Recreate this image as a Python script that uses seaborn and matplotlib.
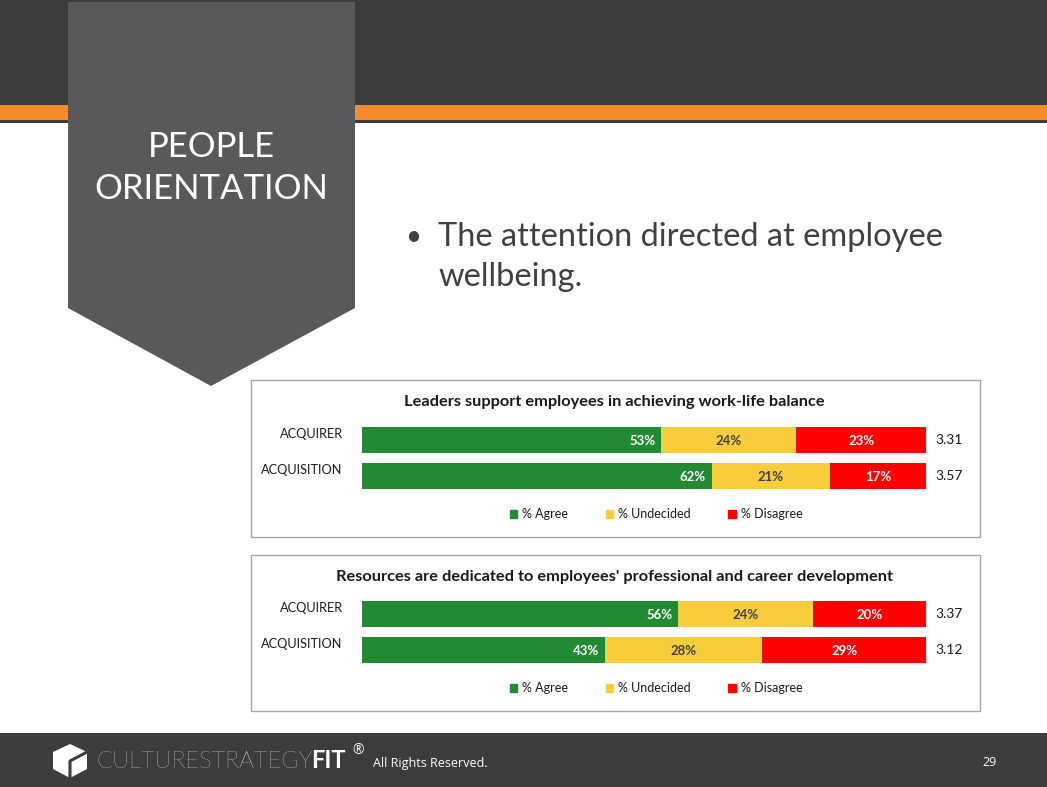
import matplotlib
matplotlib.use("Agg")
import matplotlib.pyplot as plt
import matplotlib.patches as mpatches
import matplotlib.transforms as mtransforms
from matplotlib.font_manager import fontManager
import seaborn as sns
import pandas as pd

# ---------------- data ----------------
categories = ["ACQUIRER", "ACQUISITION"]
series_names = ["% Agree", "% Undecided", "% Disagree"]
chart_titles = [
    "Leaders support employees in achieving work-life balance",
    "Resources are dedicated to employees' professional and career development",
]
agree_1 = [53, 62]
undecided_1 = [24, 21]
disagree_1 = [23, 17]
means_1 = [3.31, 3.57]
agree_2 = [56, 43]
undecided_2 = [24, 28]
disagree_2 = [20, 29]
means_2 = [3.37, 3.12]

slide_title = ["PEOPLE", "ORIENTATION"]
bullet_lines = ["The attention directed at employee", "wellbeing."]
footer_brand = "CULTURESTRATEGY"
footer_brand_bold = "FIT"
footer_note = "All Rights Reserved."
page_number = "29"

# ---------------- style ----------------
W, H = 1047, 787
GREEN, YELLOW, RED = "#228a32", "#f8cd3c", "#ff0000"
DARK = "#3c3b3d"
PENT = "#59595b"
ORANGE = "#f68b2c"
TXT = "#404040"

sns.set_theme(style="white")
avail = {f.name for f in fontManager.ttflist}
def pick(*names):
    for n in names:
        if n in avail:
            return n
    return "DejaVu Sans"
F_CHART = pick("Lato", "Carlito", "Open Sans", "DejaVu Sans")
F_SLIDE = pick("Lato", "Open Sans", "DejaVu Sans")
F_FOOT = pick("Open Sans", "Noto Sans", "DejaVu Sans")
plt.rcParams["font.family"] = [F_CHART, "DejaVu Sans"]

fig = plt.figure(figsize=(W / 100, H / 100), dpi=100)
fig.patch.set_facecolor("white")

bg = fig.add_axes([0, 0, 1, 1])
bg.set_xlim(0, W)
bg.set_ylim(H, 0)
bg.axis("off")

def rect(x0, y0, x1, y1, **kw):
    bg.add_patch(mpatches.Rectangle((x0, y0), x1 - x0, y1 - y0, **kw))

# header
rect(0, 0, W, 105, color=DARK, lw=0, zorder=1)
rect(0, 105, W, 120, color=ORANGE, lw=0, zorder=1)
rect(0, 120, W, 123, color=DARK, lw=0, zorder=1)
# pentagon banner
bg.add_patch(mpatches.Polygon([(68, 2), (355, 2), (355, 308), (211, 386), (68, 308)],
                              closed=True, color=PENT, lw=0, zorder=2))
bg.text(211, 147, slide_title[0], color="white", fontsize=25, ha="center", va="center",
        family=F_SLIDE, zorder=3)
bg.text(211, 189, slide_title[1], color="white", fontsize=25, ha="center", va="center",
        family=F_SLIDE, zorder=3)
# bullet
bg.text(405, 237, "\u2022", color=TXT, fontsize=20, ha="left", va="center", family=F_SLIDE)
bg.text(438, 237, bullet_lines[0], color=TXT, fontsize=23.5, ha="left", va="center", family=F_SLIDE)
bg.text(438, 277, bullet_lines[1], color=TXT, fontsize=23.5, ha="left", va="center", family=F_SLIDE)

# footer
rect(0, 733, W, H, color=DARK, lw=0, zorder=1)
bg.add_patch(mpatches.Polygon([(70, 744), (87, 752), (87, 769), (70, 778), (53, 769), (53, 752)],
                              closed=True, color="white", lw=0, zorder=2))
bg.plot([70, 70, 87], [778, 761, 752], color=DARK, lw=2.2, zorder=3)
t1 = bg.text(96, 761, footer_brand, color="white", fontsize=17, ha="left", va="center",
             family=F_SLIDE, fontweight="light", zorder=3)
fig.canvas.draw()
x_end = t1.get_window_extent().x1
bg.text(x_end - 1, 761, footer_brand_bold, color="white", fontsize=17, ha="left", va="center",
        family=F_SLIDE, fontweight="bold", zorder=3)
bg.text(352, 751, "\u00ae", color="white", fontsize=10, ha="left", va="center", family=F_FOOT, zorder=3)
bg.text(373, 763, footer_note, color="white", fontsize=9, ha="left", va="center", family=F_FOOT, zorder=3)
bg.text(997, 763, page_number, color="white", fontsize=9, ha="right", va="center", family=F_FOOT, zorder=3)

def px_axes(x0, y0, x1, y1):
    return [x0 / W, 1 - y1 / H, (x1 - x0) / W, (y1 - y0) / H]

def draw_chart(box, title, agree, und, dis, means, bar_top):
    bx0, by0, bx1, by1 = box
    rect(bx0, by0, bx1, by1, facecolor="white", edgecolor="#a6a6a6", lw=1.0, zorder=2)
    bg.text((bx0 + bx1) / 2 - 1, by0 + 22, title, fontsize=11.8, fontweight="bold",
            color="#1a1a1a", ha="center", va="center", zorder=3)
    c0 = bar_top + 13
    ax = fig.add_axes(px_axes(362, c0 - 18, 926, c0 + 54))
    ax.set_facecolor("none")
    df = pd.DataFrame({"cat": categories, "agree": agree, "und": und, "dis": dis})
    df["c2"] = df["agree"] + df["und"]
    df["c3"] = df["c2"] + df["dis"]
    for col, colr in (("c3", RED), ("c2", YELLOW), ("agree", GREEN)):
        sns.barplot(data=df, x=col, y="cat", color=colr, width=0.73, saturation=1,
                    orient="h", linewidth=0, ax=ax)
    ax.set_xlim(0, 100)
    ax.set_ylim(1.5, -0.5)
    ax.set_xlabel("")
    ax.set_ylabel("")
    ax.set_xticks([])
    ax.set_yticks([])
    for s in ax.spines.values():
        s.set_visible(False)
    tr = mtransforms.blended_transform_factory(ax.transAxes, ax.transData)
    for i, cat in enumerate(categories):
        ax.text(-0.034, i - 0.17, cat, transform=tr, ha="right", va="center",
                fontsize=9.2, color="#1a1a1a")
        ax.text(agree[i] - 1, i + 0.04, f"{agree[i]}%", ha="right", va="center",
                fontsize=9.5, fontweight="bold", color="white")
        ax.text(agree[i] + und[i] / 2, i + 0.04, f"{und[i]}%", ha="center", va="center",
                fontsize=9.5, fontweight="bold", color="#404040")
        ax.text(agree[i] + und[i] + dis[i] / 2, i + 0.04, f"{dis[i]}%", ha="center",
                va="center", fontsize=9.5, fontweight="bold", color="white")
        ax.text(1.016, i, f"{means[i]:.2f}", transform=tr, ha="left", va="center",
                fontsize=10, color="#1a1a1a")
    handles = [mpatches.Patch(color=c) for c in (GREEN, YELLOW, RED)]
    fig.legend(handles, series_names, loc="center",
               bbox_to_anchor=(656 / W, 1 - (by1 - 23) / H), ncol=3, frameon=False,
               fontsize=9, handlelength=0.6, handleheight=0.6, handletextpad=0.4,
               columnspacing=3.0, labelcolor="#1a1a1a")

draw_chart((251, 380, 980, 537), chart_titles[0], agree_1, undecided_1, disagree_1, means_1, 427)
draw_chart((251, 555, 980, 711), chart_titles[1], agree_2, undecided_2, disagree_2, means_2, 601)

fig.savefig("out.png", dpi=100)
